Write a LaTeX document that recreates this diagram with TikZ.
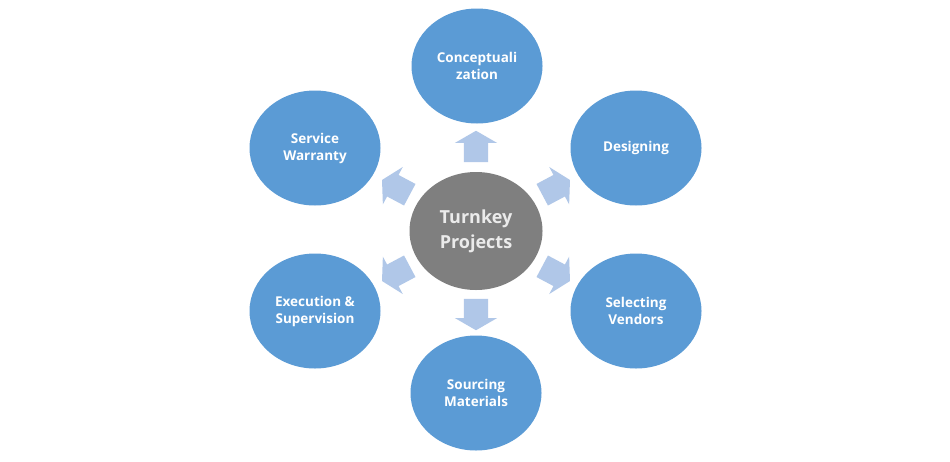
\documentclass[tikz,border=0pt]{standalone}
\usepackage{fontspec}
\setmainfont{Open Sans}
\usetikzlibrary{shapes.arrows,shapes.geometric}
\definecolor{bubble}{HTML}{5B9BD5}
\definecolor{hub}{HTML}{7F7F7F}
\definecolor{arr}{HTML}{B0C7E8}
\tikzset{
  leaf/.style={ellipse, fill=bubble, minimum width=131pt, minimum height=115pt, inner sep=0pt,
    text=white, font=\bfseries\fontsize{13.5}{17}\selectfont, align=center},
  hubnode/.style={ellipse, fill=hub, minimum width=133pt, minimum height=118pt, inner sep=0pt,
    text=white!92!black, font=\bfseries\fontsize{18}{25}\selectfont, align=center},
  flowarrow/.style={single arrow, fill=arr, draw=none, inner sep=12pt, minimum height=26pt,
    single arrow head extend=9pt, single arrow tip angle=120, shape border uses incircle=false}
}
\begin{document}
\begin{tikzpicture}[x=1pt,y=-1pt]
\useasboundingbox (0,0) rectangle (950,461);
\fill[white] (0,0) rectangle (950,461);
\node[hubnode] (c) at (476,231) {Turnkey\\Projects};
\node[leaf] (n1) at (477,66) {Conceptuali\\zation};
\node[leaf] (n2) at (636,148) {Designing};
\node[leaf] (n3) at (636,311) {Selecting\\Vendors};
\node[leaf] (n4) at (476,393) {Sourcing\\Materials};
\node[leaf] (n5) at (315,311) {Execution \&\\Supervision};
\node[leaf] (n6) at (315,148) {Service\\Warranty};
\node[flowarrow, rotate=90] (a1) at (476,150) {};
\node[flowarrow, rotate=28] (a2) at (553,189) {};
\node[flowarrow, rotate=-28] (a3) at (553,272) {};
\node[flowarrow, rotate=-90] (a4) at (476,311) {};
\node[flowarrow, rotate=-152] (a5) at (399,272) {};
\node[flowarrow, rotate=152] (a6) at (399,189) {};
\end{tikzpicture}
\end{document}
